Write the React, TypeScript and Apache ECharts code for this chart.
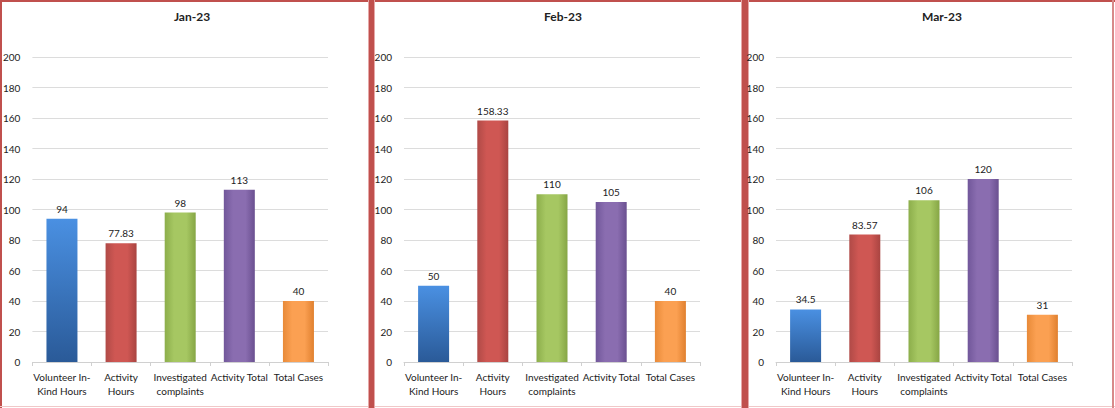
import React, { useEffect, useRef } from "react";
import * as echarts from "echarts";

const categories = [
  "Volunteer In-\nKind Hours",
  "Activity\nHours",
  "Investigated\ncomplaints",
  "Activity Total",
  "Total Cases",
];
const months = ["Jan-23", "Feb-23", "Mar-23"];
const janValues = [94, 77.83, 98, 113, 40];
const febValues = [50, 158.33, 110, 105, 40];
const marValues = [34.5, 83.57, 106, 120, 31];
const yMin = 0;
const yMax = 200;
const yInterval = 20;

const barColors = [
  ["#2c5e9e", "#3f87da", "#2f66aa"],
  ["#a94441", "#cf5753", "#b04a47"],
  ["#86a645", "#a6c762", "#8cae4b"],
  ["#6a5090", "#8a6db0", "#71579a"],
  ["#e0802f", "#fba052", "#e88a38"],
];

function fillFor(i: number) {
  if (i === 0) {
    return new echarts.graphic.LinearGradient(0, 0, 0, 1, [
      { offset: 0, color: "#4a90e2" },
      { offset: 1, color: "#2a5a98" },
    ]);
  }
  const c = barColors[i];
  return new echarts.graphic.LinearGradient(0, 0, 1, 0, [
    { offset: 0, color: c[2] },
    { offset: 0.3, color: c[1] },
    { offset: 0.7, color: c[1] },
    { offset: 1, color: c[0] },
  ]);
}

const gridLefts = [32, 404, 776];
const gridWidth = 296;
const titleCenters = [187, 558, 937];

export default function App() {
  const ref = useRef<HTMLDivElement>(null);
  useEffect(() => {
    if (!ref.current) return;
    const chart = echarts.init(ref.current, undefined, { renderer: "svg" });
    const all = [janValues, febValues, marValues];
    const font = "Lato, Carlito, Calibri, sans-serif";
    const red = "#c0504d";
    const option: any = {
      animation: false,
      backgroundColor: "#ffffff",
      textStyle: { fontFamily: font },
      title: months.map((m, i) => ({
        text: m,
        left: titleCenters[i],
        top: 5,
        textAlign: "center",
        textStyle: { fontSize: 12, fontWeight: "bold", color: "#222", fontFamily: font },
      })),
      grid: gridLefts.map((l) => ({
        left: l,
        width: gridWidth,
        top: 57,
        height: 305,
        containLabel: false,
      })),
      xAxis: months.map((_, i) => ({
        type: "category",
        gridIndex: i,
        data: categories,
        axisLine: { show: true, lineStyle: { color: "#d0d0d0" } },
        axisTick: { show: true, length: 4, lineStyle: { color: "#d0d0d0" } },
        axisLabel: {
          interval: 0,
          color: "#222",
          fontSize: 10,
          fontFamily: font,
          lineHeight: 14,
          margin: 8,
        },
      })),
      yAxis: months.map((_, i) => ({
        type: "value",
        gridIndex: i,
        min: yMin,
        max: yMax,
        interval: yInterval,
        axisLine: { show: false },
        axisTick: { show: false },
        splitLine: { lineStyle: { color: "#dcdcdc" } },
        axisLabel: { color: "#222", fontSize: 10, fontFamily: font, margin: 12 },
      })),
      series: all.map((vals, i) => ({
        type: "bar",
        xAxisIndex: i,
        yAxisIndex: i,
        barWidth: 31,
        data: vals.map((v, j) => ({
          value: v,
          itemStyle: { color: fillFor(j) },
        })),
        label: {
          show: true,
          position: "top",
          distance: 5,
          color: "#222",
          fontSize: 10,
          fontFamily: font,
        },
      })),
      graphic: [
        { type: "rect", shape: { x: 0, y: 0, width: 1115, height: 2 }, style: { fill: red } },
        { type: "rect", shape: { x: 0, y: 0, width: 2, height: 408 }, style: { fill: red } },
        { type: "rect", shape: { x: 0, y: 406, width: 1115, height: 1 }, style: { fill: "#f0c8c8" } },
        { type: "rect", shape: { x: 1112, y: 0, width: 2, height: 408 }, style: { fill: "#d88a8a" } },
        { type: "rect", shape: { x: 368, y: 0, width: 1, height: 408 }, style: { fill: "#e6a8a8" } },
        { type: "rect", shape: { x: 369, y: 0, width: 5, height: 408 }, style: { fill: red } },
        { type: "rect", shape: { x: 374, y: 0, width: 1, height: 408 }, style: { fill: "#e6a8a8" } },
        { type: "rect", shape: { x: 741, y: 0, width: 1, height: 408 }, style: { fill: "#e6a8a8" } },
        { type: "rect", shape: { x: 742, y: 0, width: 6, height: 408 }, style: { fill: red } },
        { type: "rect", shape: { x: 748, y: 0, width: 1, height: 408 }, style: { fill: "#e6a8a8" } },
      ],
    };
    chart.setOption(option);
    return () => chart.dispose();
  }, []);
  return (
    <div
      ref={ref}
      style={{ position: "fixed", left: 0, top: 0, width: 1115, height: 408 }}
    />
  );
}
